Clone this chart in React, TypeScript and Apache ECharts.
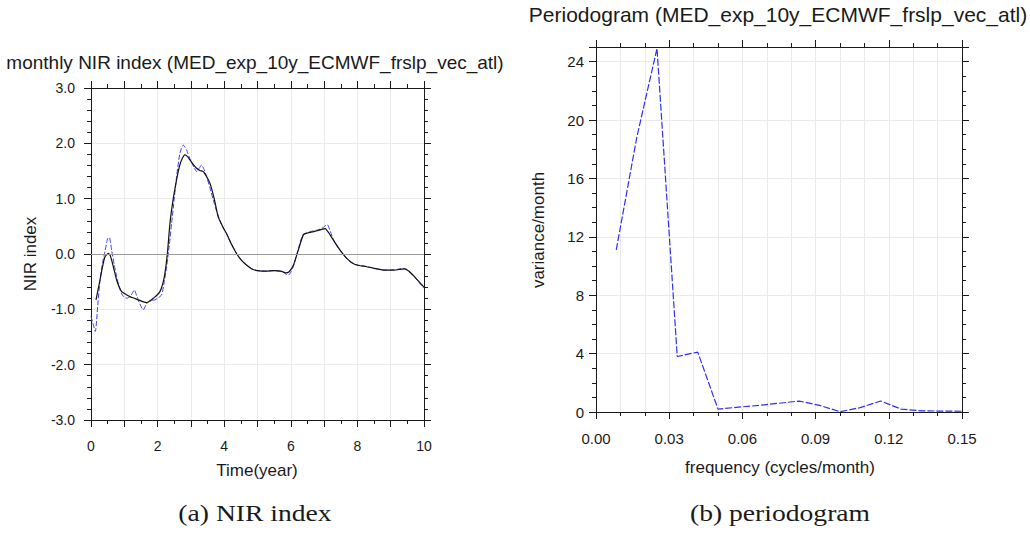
import React, { useEffect, useRef } from "react";
import * as echarts from "echarts";

// Monthly NIR index, raw series (years, index)
const rawTime = [
  0.0, 0.08, 0.13, 0.2, 0.27, 0.35, 0.42, 0.5, 0.55, 0.62, 0.7, 0.77, 0.85, 0.92, 1.0, 1.08,
  1.17, 1.25, 1.3, 1.37, 1.45, 1.57, 1.65, 1.72, 1.83, 1.92, 2.0, 2.12, 2.2, 2.27, 2.35, 2.42,
  2.5, 2.57, 2.67, 2.77, 2.87, 2.95, 3.02, 3.1, 3.17, 3.25, 3.32, 3.4, 3.47, 3.57, 3.67, 3.77,
  3.87, 3.97, 4.07, 4.2, 4.37, 4.5, 4.67, 4.83, 5.0, 5.25, 5.5, 5.67, 5.78, 5.87, 5.93, 6.0,
  6.08, 6.16, 6.23, 6.3, 6.38, 6.48, 6.58, 6.68, 6.78, 6.88, 6.98, 7.05, 7.1, 7.18, 7.28, 7.38,
  7.48, 7.58, 7.68, 7.8, 7.93, 8.1, 8.28, 8.48, 8.65, 8.78, 9.0, 9.18, 9.35, 9.45, 9.55, 9.68,
  9.8, 9.9, 10.0,
];
const rawIndex = [
  -1.13, -1.3, -1.4, -0.95, -0.47, -0.15, 0.05, 0.28, 0.3, 0.07, -0.2, -0.41, -0.6, -0.72, -0.78, -0.8,
  -0.77, -0.7, -0.65, -0.75, -0.88, -1.01, -0.92, -0.86, -0.84, -0.83, -0.8, -0.74, -0.5, -0.23, 0.15, 0.55,
  1.0, 1.4, 1.82, 1.97, 1.88, 1.75, 1.65, 1.56, 1.49, 1.55, 1.61, 1.52, 1.4, 1.2, 0.98, 0.78,
  0.61, 0.47, 0.37, 0.2, 0.01, -0.1, -0.2, -0.27, -0.3, -0.31, -0.3, -0.31, -0.33, -0.37, -0.38, -0.33,
  -0.22, -0.05, 0.1, 0.25, 0.36, 0.38, 0.4, 0.42, 0.43, 0.45, 0.48, 0.52, 0.53, 0.42, 0.26, 0.15,
  0.07, -0.01, -0.08, -0.15, -0.19, -0.21, -0.23, -0.25, -0.28, -0.29, -0.29, -0.28, -0.26, -0.27, -0.32, -0.4,
  -0.47, -0.55, -0.62,
];

// Smoothed NIR index (years, index)
const smoothTime = [
  0.15, 0.2, 0.27, 0.35, 0.42, 0.52, 0.58, 0.62, 0.7, 0.77, 0.85, 0.92, 1.05, 1.17, 1.3, 1.42,
  1.55, 1.67, 1.77, 1.87, 1.97, 2.07, 2.15, 2.22, 2.3, 2.37, 2.47, 2.57, 2.65, 2.72, 2.82, 2.9,
  2.97, 3.07, 3.17, 3.27, 3.37, 3.47, 3.57, 3.7, 3.82, 3.95, 4.07, 4.2, 4.37, 4.5, 4.67, 4.83,
  5.0, 5.25, 5.5, 5.7, 5.85, 5.95, 6.08, 6.23, 6.38, 6.5, 6.65, 6.8, 6.95, 7.03, 7.12, 7.28,
  7.48, 7.68, 7.93, 8.28, 8.5, 8.78, 9.1, 9.4, 9.55, 9.7, 9.85, 10.0,
];
const smoothIndex = [
  -0.83, -0.68, -0.47, -0.22, -0.05, 0.01, -0.03, -0.11, -0.3, -0.47, -0.6, -0.68, -0.73, -0.77, -0.8, -0.83,
  -0.86, -0.88, -0.85, -0.8, -0.75, -0.68, -0.55, -0.35, 0.05, 0.55, 1.0, 1.34, 1.57, 1.7, 1.79, 1.76,
  1.7, 1.62, 1.55, 1.51, 1.49, 1.4, 1.28, 1.0, 0.67, 0.5, 0.37, 0.2, 0.01, -0.1, -0.2, -0.27,
  -0.3, -0.31, -0.3, -0.31, -0.34, -0.32, -0.2, 0.08, 0.35, 0.38, 0.4, 0.42, 0.45, 0.46, 0.4, 0.25,
  0.07, -0.08, -0.19, -0.23, -0.26, -0.29, -0.29, -0.27, -0.31, -0.4, -0.5, -0.6,
];

// Periodogram (cycles/month, variance/month)
const frequency = [
  0.0083, 0.0167, 0.025, 0.0333, 0.0417, 0.05, 0.0583, 0.0667, 0.075, 0.0833, 0.0917, 0.1,
  0.1083, 0.1167, 0.125, 0.1333, 0.1417, 0.15,
];
const variance = [
  11.1, 18.8, 24.9, 3.8, 4.1, 0.2, 0.33, 0.45, 0.6, 0.75, 0.45, 0.02,
  0.3, 0.75, 0.2, 0.08, 0.06, 0.05,
];

const nirTicks = [-3, -2, -1, 0, 1, 2, 3];
const freqTicks = [0, 0.03, 0.06, 0.09, 0.12, 0.15];

const SANS = "'Liberation Sans', Arial, Helvetica, sans-serif";
const SERIF = "'Liberation Serif', 'Times New Roman', serif";
const INK = "#1a1a1a";
const GRID = "#eaeaea";

const zip = (xs: number[], ys: number[]) => xs.map((x, i) => [x, ys[i]]);

function frameAxis(extra: any) {
  return {
    type: "value",
    axisLine: { show: true, onZero: false, lineStyle: { color: INK, width: 1 } },
    axisTick: { show: true, inside: false, length: 7, lineStyle: { color: INK, width: 1 } },
    minorTick: { show: true, length: 4, lineStyle: { color: INK, width: 1 } },
    splitLine: { show: false },
    axisLabel: { show: false },
    ...extra,
  };
}

export default function App() {
  const ref = useRef<HTMLDivElement>(null);

  useEffect(() => {
    if (!ref.current) return;
    const chart = echarts.init(ref.current, undefined, { renderer: "svg" });

    const nirX = { min: 0, max: 10, interval: 1, minorTick: { show: true, splitNumber: 2, length: 4, lineStyle: { color: INK } } };
    const nirY = { min: nirTicks[0], max: nirTicks[nirTicks.length - 1], interval: 1, minorTick: { show: true, splitNumber: 5, length: 4, lineStyle: { color: INK } } };
    const frX = { min: freqTicks[0], max: freqTicks[freqTicks.length - 1], interval: 0.03, minorTick: { show: true, splitNumber: 3, length: 4, lineStyle: { color: INK } } };
    const frY = { min: 0, max: 25, interval: 4, minorTick: { show: true, splitNumber: 4, length: 4, lineStyle: { color: INK } } };

    const text = (t: string, x: number, y: number, size: number, opts: any = {}) => ({
      type: "text",
      x,
      y,
      rotation: opts.rotation || 0,
      scaleX: opts.scaleX || 1,
      style: {
        text: t,
        fontSize: size,
        fontFamily: opts.font || SANS,
        fill: INK,
        align: "center",
        verticalAlign: "middle",
      },
    });

    chart.setOption({
      animation: false,
      backgroundColor: "#ffffff",
      grid: [
        { left: 91, top: 88, width: 333, height: 332 },
        { left: 596, top: 47, width: 366, height: 365 },
      ],
      xAxis: [
        frameAxis({
          gridIndex: 0,
          position: "bottom",
          ...nirX,
          splitLine: { show: true, lineStyle: { color: GRID, width: 1 } },
          axisLabel: {
            show: true,
            margin: 19,
            fontSize: 14,
            fontFamily: SANS,
            color: INK,
            formatter: (v: number) => (Math.round(v) % 2 === 0 ? String(Math.round(v)) : ""),
          },
        }),
        frameAxis({ gridIndex: 0, position: "top", ...nirX }),
        frameAxis({
          gridIndex: 1,
          position: "bottom",
          ...frX,
          splitLine: { show: true, lineStyle: { color: GRID, width: 1 } },
          minorSplitLine: { show: true, lineStyle: { color: GRID, width: 1 } },
          axisLabel: {
            show: true,
            margin: 19,
            fontSize: 15,
            fontFamily: SANS,
            color: INK,
            formatter: (v: number) => v.toFixed(2),
          },
        }),
        frameAxis({ gridIndex: 1, position: "top", ...frX }),
      ],
      yAxis: [
        frameAxis({
          gridIndex: 0,
          position: "left",
          ...nirY,
          splitLine: { show: true, lineStyle: { color: GRID, width: 1 } },
          axisLabel: {
            show: true,
            margin: 16,
            fontSize: 14,
            fontFamily: SANS,
            color: INK,
            formatter: (v: number) => v.toFixed(1),
          },
        }),
        frameAxis({ gridIndex: 0, position: "right", ...nirY }),
        frameAxis({
          gridIndex: 1,
          position: "left",
          ...frY,
          splitLine: { show: true, lineStyle: { color: GRID, width: 1 } },
          axisLabel: {
            show: true,
            margin: 12,
            fontSize: 15,
            fontFamily: SANS,
            color: INK,
            showMaxLabel: false,
            formatter: (v: number) => (v > 24 ? "" : String(v)),
          },
        }),
        frameAxis({ gridIndex: 1, position: "right", ...frY }),
      ],
      series: [
        {
          type: "line",
          xAxisIndex: 0,
          yAxisIndex: 0,
          data: zip(rawTime, rawIndex),
          showSymbol: false,
          smooth: 0.2,
          lineStyle: { color: "#3b3bf5", width: 1, type: [5, 2] },
          markLine: {
            silent: true,
            symbol: "none",
            label: { show: false },
            lineStyle: { color: "#9a9a9a", width: 1, type: "solid" },
            data: [{ yAxis: 0 }],
          },
          z: 3,
        },
        {
          type: "line",
          xAxisIndex: 0,
          yAxisIndex: 0,
          data: zip(smoothTime, smoothIndex),
          showSymbol: false,
          smooth: 0.2,
          lineStyle: { color: "#111111", width: 1.2, type: "solid" },
          z: 4,
        },
        {
          type: "line",
          xAxisIndex: 2,
          yAxisIndex: 2,
          data: zip(frequency, variance),
          showSymbol: false,
          lineStyle: { color: "#2f2ff0", width: 1.2, type: [7, 2] },
          z: 3,
        },
      ],
      graphic: [
        text("monthly NIR index (MED_exp_10y_ECMWF_frslp_vec_atl)", 255, 62, 19),
        text("Periodogram (MED_exp_10y_ECMWF_frslp_vec_atl)", 778, 14, 21),
        text("NIR index", 30, 254, 17, { rotation: Math.PI / 2 }),
        text("Time(year)", 257, 470, 17),
        text("variance/month", 538, 230, 17, { rotation: Math.PI / 2 }),
        text("frequency (cycles/month)", 780, 467, 17),
        text("(a) NIR index", 255, 513, 24, { font: SERIF, scaleX: 1.15 }),
        text("(b) periodogram", 780, 513, 24, { font: SERIF, scaleX: 1.15 }),
      ],
    });

    return () => chart.dispose();
  }, []);

  return (
    <div
      ref={ref}
      style={{ position: "absolute", left: 0, top: 0, width: 1030, height: 533 }}
    />
  );
}
